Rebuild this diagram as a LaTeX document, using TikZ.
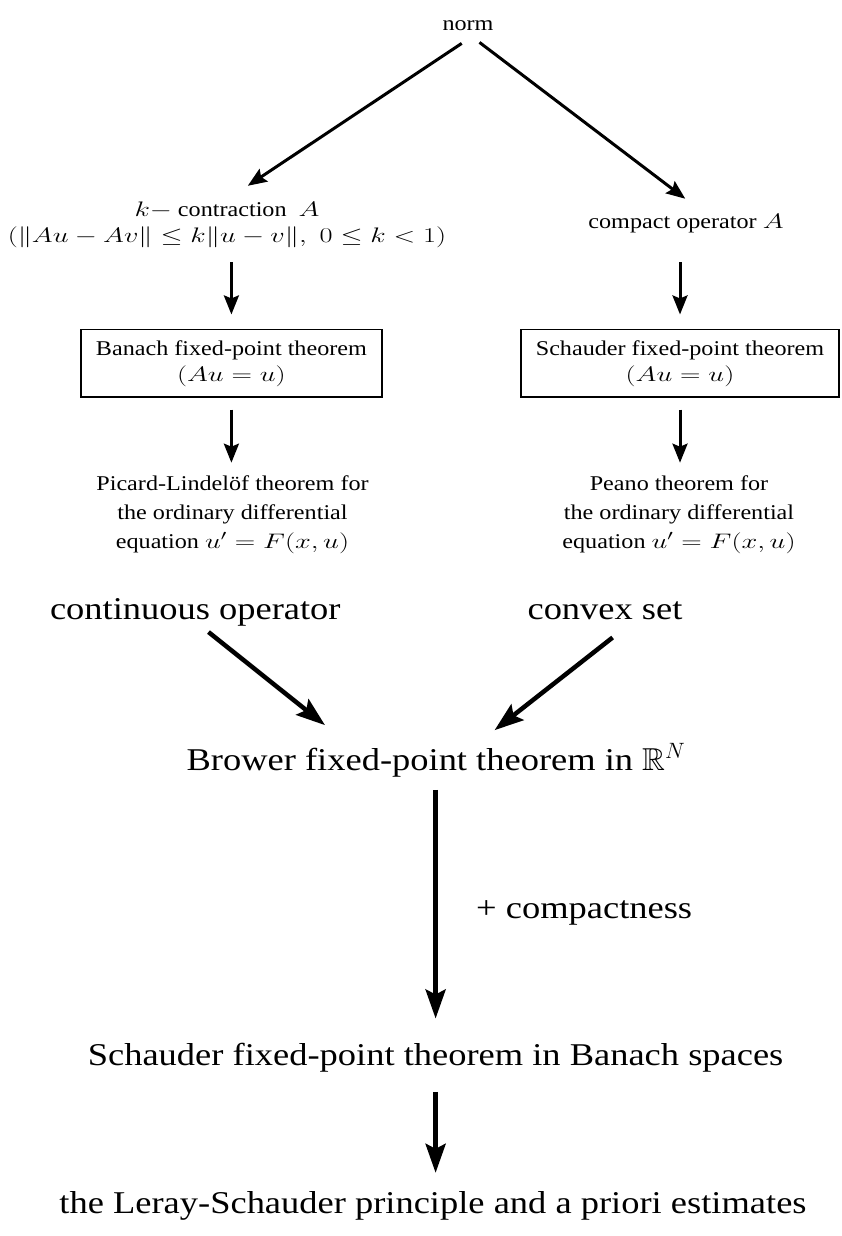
\RequirePackage{fix-cm}
\documentclass[tikz,border=0pt]{standalone}
\usepackage{amssymb}
\usepackage{graphicx}
\usepackage{fontspec}
\setmainfont{Liberation Serif}[FakeStretch=1.15]
\usetikzlibrary{arrows.meta,calc}
% math of the figure is set a bit wider
\newcommand{\mw}[1]{\scalebox{1.35}[1]{$#1$}}

\begin{document}
\begin{tikzpicture}[x=1pt,y=-1pt,
  sm/.style={font=\fontsize{21}{26}\selectfont, inner sep=2pt, align=center},
  bg/.style={font=\fontsize{31.7}{38}\selectfont, inner sep=2pt},
  thm/.style={sm, draw, line width=1.2pt, minimum height=67.5pt},
  thin arr/.style={-{Stealth[length=19pt,width=15pt,inset=3pt]}, line width=3pt},
  thick arr/.style={-{Stealth[length=29pt,width=20pt,inset=5pt]}, line width=4.5pt}]
\useasboundingbox (0,0) rectangle (841,1236);

% upper part
\node [sm, anchor=base] (norm) at (468,31) {norm};
\node [sm] (contr) at (227,225.3) {\mw{k-}\ contraction\ \ \mw{A}\\ \mw{(\|Au-Av\|\le k\|u-v\|,\ 0\le k<1)}};
\node [sm, anchor=base] (comp) at (686,228) {compact operator \mw{A}};
\node [thm, minimum width=301pt] (banach) at (231.4,363.3) {Banach fixed-point theorem\\ \mw{(Au=u)}};
\node [thm, minimum width=318pt] (schaud) at (680,363.3) {Schauder fixed-point theorem\\ \mw{(Au=u)}};
\node [sm, font=\fontsize{21}{29}\selectfont] (picard) at (232.5,514.4) {Picard-Lindelöf theorem for\\ the ordinary differential\\ equation \mw{u' = F(x,u)}};
\node [sm, font=\fontsize{21}{29}\selectfont] (peano) at (679,514.4) {Peano theorem for\\ the ordinary differential\\ equation \mw{u' = F(x,u)}};

\draw [thin arr] ($(norm.south)+(-6.3,10)$) -- ($(contr.north)+(20.8,-14.4)$);
\draw [thin arr] ($(norm.south)+(11.5,9)$) -- ($(comp.north)+(-0.7,-12.7)$);
\draw [thin arr, shorten <=11.7pt, shorten >=14.5pt] (banach.north |- contr.south) -- (banach.north);
\draw [thin arr, shorten <=27.4pt, shorten >=14.5pt] (schaud.north |- comp.south) -- (schaud.north);
\draw [thin arr, shorten <=12pt, shorten >=10.5pt] (banach.south) -- (banach.south |- picard.north);
\draw [thin arr, shorten <=12pt, shorten >=10.5pt] (schaud.south) -- (schaud.south |- peano.north);

% lower part
\node [bg, anchor=base] (cont) at (195.3,619) {continuous operator};
\node [bg, anchor=base] (cvx) at (605,619) {convex set};
\node [bg, anchor=base] (brow) at (436,770) {Brower fixed-point theorem in $\mathbb{R}^N$};
\node [bg, anchor=base west] (cpt) at (474,918) {+ compactness};
\node [bg, anchor=base] (schbs) at (435.6,1065) {Schauder fixed-point theorem in Banach spaces};
\node [bg, anchor=base] (leray) at (433,1213) {the Leray-Schauder principle and a priori estimates};

\draw [thick arr] ($(cont.south)+(13.2,4.1)$) -- ($(brow.north)+(-111,-16)$);
\draw [thick arr] ($(cvx.south)+(7.6,16)$) -- ($(brow.north)+(58.6,-11)$);
\draw [thick arr, shorten <=11pt, shorten >=22pt] (brow.south -| schbs.south) -- (schbs.north);
\draw [thick arr, shorten <=18pt, shorten >=16pt] (schbs.south) -- (schbs.south |- leray.north);

\end{tikzpicture}
\end{document}
